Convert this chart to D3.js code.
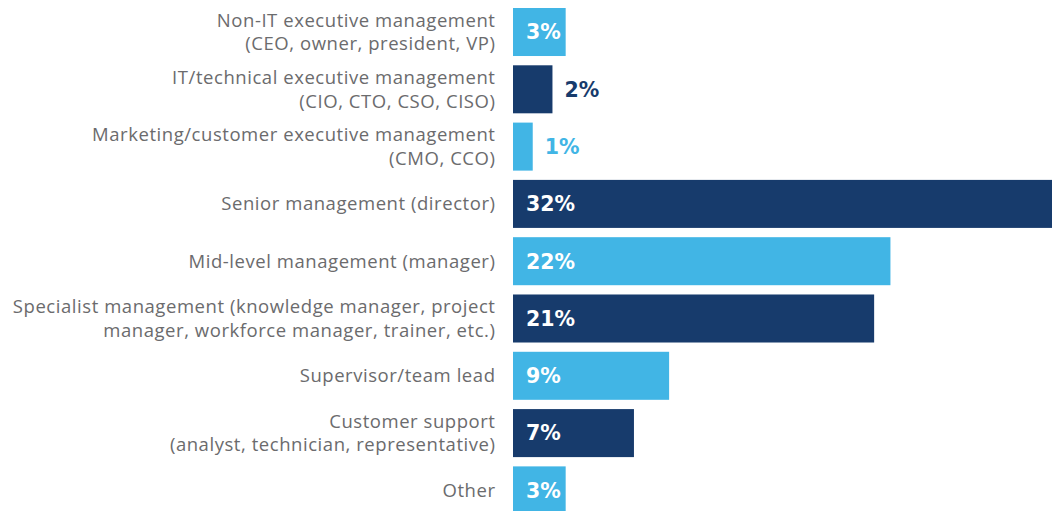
<!DOCTYPE html>
<html>
<head>
<meta charset="utf-8">
<script src="https://cdn.jsdelivr.net/npm/d3@7"></script>
<style>
  body { margin: 0; background: #fff; overflow: hidden; }
  .cat { font-family: "Open Sans", "Noto Sans", sans-serif; font-size: 18.5px; fill: #6b6b6d; letter-spacing: 0.55px; }
  .val { font-family: "DejaVu Sans", sans-serif; font-size: 20.5px; font-weight: bold; }
</style>
</head>
<body>
<script>
// categories (line breaks as in the original)
var categories = [
  "Non-IT executive management\n(CEO, owner, president, VP)",
  "IT/technical executive management\n(CIO, CTO, CSO, CISO)",
  "Marketing/customer executive management\n(CMO, CCO)",
  "Senior management (director)",
  "Mid-level management (manager)",
  "Specialist management (knowledge manager, project\nmanager, workforce manager, trainer, etc.)",
  "Supervisor/team lead",
  "Customer support\n(analyst, technician, representative)",
  "Other"
];
// share of respondents (%)
var values = [3.07, 2.3, 1.15, 32, 22, 21.05, 9.1, 7.05, 3.07];
// labels printed on the bars
var valueLabels = ["3%", "2%", "1%", "32%", "22%", "21%", "9%", "7%", "3%"];

var w = 1052, h = 511;
var light = "#41b5e5", dark = "#173b6c";

var svg = d3.select("body").append("svg")
    .attr("width", w)
    .attr("height", h);

var x = d3.scaleLinear().domain([0, 32]).range([513, 1062]);
var y = d3.scaleBand().domain(categories).range([8, 514.4]).paddingInner(0.162).paddingOuter(0);

var rows = svg.selectAll("g.row")
    .data(categories)
    .enter().append("g")
    .attr("class", "row");

rows.append("rect")
    .attr("x", x(0))
    .attr("y", function(d){ return y(d); })
    .attr("width", function(d, i){ return x(values[i]) - x(0); })
    .attr("height", y.bandwidth())
    .attr("fill", function(d, i){ return i % 2 ? dark : light; });

// value labels: inside the bar in white, outside in the bar colour when the bar is short
rows.append("text")
    .attr("class", "val")
    .attr("x", function(d, i){
        var wd = x(values[i]) - x(0);
        return wd < 45 ? x(values[i]) + 12 : x(0) + 13;
    })
    .attr("y", function(d){ return y(d) + y.bandwidth() / 2; })
    .attr("dy", "0.36em")
    .attr("fill", function(d, i){
        var wd = x(values[i]) - x(0);
        if (wd >= 45) return "#fff";
        return i % 2 ? dark : light;
    })
    .text(function(d, i){ return valueLabels[i]; });

// category labels, right aligned
rows.append("text")
    .attr("class", "cat")
    .attr("text-anchor", "end")
    .each(function(d){
        var lines = d.split("\n");
        var cy = y(d) + y.bandwidth() / 2;
        var lh = 23.5;
        var t = d3.select(this);
        lines.forEach(function(line, k){
            t.append("tspan")
                .attr("x", 495.5)
                .attr("y", cy + (k - (lines.length - 1) / 2) * lh)
                .attr("dy", "0.35em")
                .text(line);
        });
    });
</script>
</body>
</html>
